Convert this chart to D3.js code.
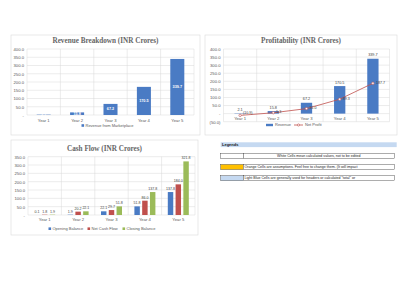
<!DOCTYPE html>
<html><head><meta charset="utf-8">
<script src="https://cdn.jsdelivr.net/npm/d3@7"></script>
<style>body{margin:0;background:#fff}svg{display:block}text{font-family:"Liberation Sans",Arial,sans-serif}</style>
</head><body><svg id="c" width="400" height="300"></svg>
<script>
const years = ["Year 1","Year 2","Year 3","Year 4","Year 5"];
const revenue = [2.1, 15.8, 67.2, 170.5, 339.7];
const netProfit = [-10.9, 5.3, 31.0, 89.3, 187.7];
const openingBalance = [0.1, 1.9, 22.1, 51.8, 137.8];
const netCashFlow = [1.8, 20.2, 29.7, 86.0, 184.0];
const closingBalance = [1.9, 22.1, 51.8, 137.8, 321.8];
const revTicks = [0,50,100,150,200,250,300,350,400];
const profitTicks = [-50,0,50,100,150,200,250,300,350,400];
const cashTicks = [0,50,100,150,200,250,300,350];
const legendRows = [
  {fill:"#ffffff", text:"White Cells mean calculated values, not to be edited", center:true},
  {fill:"#ffc000", text:"Orange Cells are assumptions. Feel free to change them. (It will impact", center:false},
  {fill:"#c5d9f1", text:"Light Blue Cells are generally used for headers or calculated \"total\" or", center:false}
];

const svg = d3.select("#c");
const fmt = v => v === 0 ? "-" : (v < 0 ? "(" + d3.format(",.1f")(-v) + ")" : d3.format(",.1f")(v));
const BLUE = "#4a7bc4", RED = "#c0504d", GREEN = "#9bbb59";
const GRID = "#d9d9d9", TXT = "#595959";

function frame(card, title, titleY, plot, x, y, ticks) {
  svg.append("rect").attr("x", card.x).attr("y", card.y).attr("width", card.w).attr("height", card.h)
    .attr("fill", "#fff").attr("stroke", "#d9d9d9").attr("stroke-width", 0.6);
  svg.append("text").attr("x", card.x + card.w / 2).attr("y", titleY).attr("text-anchor", "middle")
    .attr("dominant-baseline", "middle")
    .style("font-family", "'Liberation Serif','DejaVu Serif',serif")
    .attr("font-size", 7.2).attr("font-weight", "bold").attr("fill", "#666").text(title);
  const g = svg.append("g");
  g.selectAll(".hg").data(ticks).join("line").attr("x1", plot.x0).attr("x2", plot.x1)
    .attr("y1", d => y(d)).attr("y2", d => y(d)).attr("stroke", GRID).attr("stroke-width", 0.5);
  const bw = x.step();
  const vx = years.map((d, i) => plot.x0 + i * bw).concat([plot.x1]);
  g.selectAll(".vg").data(vx).join("line").attr("x1", d => d).attr("x2", d => d)
    .attr("y1", y(ticks[ticks.length - 1])).attr("y2", y(ticks[0])).attr("stroke", GRID).attr("stroke-width", 0.5);
  const ya = d3.axisLeft(y).tickValues(ticks).tickFormat(fmt).tickSize(0).tickPadding(3);
  const yg = svg.append("g").attr("transform", `translate(${plot.x0},0)`).call(ya);
  yg.select(".domain").remove();
  yg.selectAll("text").attr("font-size", 4.2).attr("fill", TXT).style("font-family", "'Liberation Sans',Arial,sans-serif");
  return g;
}

function xAxis(x, yPos) {
  const xa = d3.axisBottom(x).tickSize(0).tickPadding(0);
  const xg = svg.append("g").attr("transform", `translate(0,${yPos})`).call(xa);
  xg.select(".domain").remove();
  xg.selectAll("text").attr("font-size", 4.2).attr("fill", TXT).attr("dy", "0.35em").attr("y", 0)
    .style("font-family", "'Liberation Sans',Arial,sans-serif");
}

function legend(items, cx, yPos) {
  const fs = 4.0;
  const widths = items.map(it => it.label.length * fs * 0.5 + (it.type === "line" ? 11 : (it.type === "wide" ? 9 : 4)) + 5);
  const total = d3.sum(widths);
  let xx = cx - total / 2;
  items.forEach(it => {
    if (it.type === "line") {
      svg.append("line").attr("x1", xx).attr("x2", xx + 9).attr("y1", yPos).attr("y2", yPos).attr("stroke", it.color).attr("stroke-width", 0.8);
      svg.append("circle").attr("cx", xx + 4.5).attr("cy", yPos).attr("r", 1.1).attr("fill", "#fff").attr("stroke", it.color).attr("stroke-width", 0.6);
      xx += 11;
    } else if (it.type === "wide") {
      svg.append("rect").attr("x", xx).attr("y", yPos - 1.2).attr("width", 7).attr("height", 2.4).attr("fill", it.color);
      xx += 9;
    } else {
      svg.append("rect").attr("x", xx).attr("y", yPos - 1.3).attr("width", 2.6).attr("height", 2.6).attr("fill", it.color);
      xx += 4;
    }
    svg.append("text").attr("x", xx).attr("y", yPos).attr("dominant-baseline", "middle").attr("font-size", fs).attr("fill", TXT).text(it.label);
    xx += it.label.length * fs * 0.5 + 5;
  });
}

// ---------- Chart 1: Revenue Breakdown ----------
{
  const card = {x: 11, y: 35, w: 189, h: 100};
  const plot = {x0: 27, x1: 194, top: 49, bot: 115};
  const x = d3.scaleBand().domain(years).range([plot.x0, plot.x1]);
  const y = d3.scaleLinear().domain([0, 400]).range([plot.bot, plot.top]);
  frame(card, "Revenue Breakdown (INR Crores)", 41.5, plot, x, y, revTicks);
  const bw = x.bandwidth() * 0.42;
  svg.append("g").selectAll("rect").data(revenue).join("rect")
    .attr("x", (d, i) => x(years[i]) + x.bandwidth() / 2 - bw / 2).attr("width", bw)
    .attr("y", d => y(d)).attr("height", d => y(0) - y(d)).attr("fill", BLUE);
  svg.append("g").selectAll("text").data(revenue).join("text")
    .attr("x", (d, i) => x(years[i]) + x.bandwidth() / 2).attr("y", d => (y(d) + y(0)) / 2)
    .attr("text-anchor", "middle").attr("dominant-baseline", "middle").attr("font-size", 3.8)
    .attr("font-weight", "bold").attr("fill", "#fff").text(d => fmt(d));
  xAxis(x, 121);
  legend([{type: "sq", color: BLUE, label: "Revenue from Marketplace"}], 110, 125.5);
}

// ---------- Chart 2: Profitability ----------
{
  const card = {x: 205, y: 35, w: 192, h: 100};
  const plot = {x0: 223.5, x1: 389.5, top: 49, bot: 121.7};
  const x = d3.scaleBand().domain(years).range([plot.x0, plot.x1]);
  const y = d3.scaleLinear().domain([-50, 400]).range([plot.bot, plot.top]);
  frame(card, "Profitability (INR Crores)", 41.5, plot, x, y, profitTicks);
  const bw = x.bandwidth() * 0.34;
  const cx = i => x(years[i]) + x.bandwidth() / 2;
  svg.append("g").selectAll("rect").data(revenue).join("rect")
    .attr("x", (d, i) => cx(i) - bw / 2).attr("width", bw)
    .attr("y", d => y(d)).attr("height", d => y(0) - y(d)).attr("fill", BLUE);
  svg.append("g").selectAll("text").data(revenue).join("text")
    .attr("x", (d, i) => cx(i)).attr("y", d => y(d) - 2.5)
    .attr("text-anchor", "middle").attr("font-size", 3.8).attr("fill", "#404040").text(d => fmt(d));
  const line = d3.line().x((d, i) => cx(i)).y(d => y(d));
  svg.append("path").datum(netProfit).attr("d", line).attr("fill", "none").attr("stroke", RED).attr("stroke-width", 0.8);
  svg.append("g").selectAll("circle").data(netProfit).join("circle")
    .attr("cx", (d, i) => cx(i)).attr("cy", d => y(d)).attr("r", 1.2)
    .attr("fill", "#fff").attr("stroke", RED).attr("stroke-width", 0.6);
  svg.append("g").selectAll("text").data(netProfit).join("text")
    .attr("x", (d, i) => cx(i) + 3).attr("y", d => Math.min(y(d), y(0)) - 0.3)
    .attr("dominant-baseline", "middle").attr("font-size", 3.6).attr("fill", "#404040").text(d => fmt(d));
  xAxis(x, 118.6);
  legend([{type: "wide", color: BLUE, label: "Revenue"}, {type: "line", color: RED, label: "Net Profit"}], 298, 125);
}

// ---------- Chart 3: Cash Flow ----------
{
  const card = {x: 11, y: 140, w: 187, h: 95};
  const plot = {x0: 28, x1: 195, top: 156.7, bot: 215};
  const x = d3.scaleBand().domain(years).range([plot.x0, plot.x1]);
  const y = d3.scaleLinear().domain([0, 350]).range([plot.bot, plot.top]);
  frame(card, "Cash Flow (INR Crores)", 149, plot, x, y, cashTicks);
  const series = [
    {name: "Opening Balance", vals: openingBalance, color: BLUE},
    {name: "Net Cash Flow", vals: netCashFlow, color: RED},
    {name: "Closing Balance", vals: closingBalance, color: GREEN}
  ];
  const inner = d3.scaleBand().domain(series.map(s => s.name)).range([0, 21]).paddingInner(0.3);
  series.forEach(s => {
    const off = x.bandwidth() / 2 - 10.5 + inner(s.name);
    svg.append("g").selectAll("rect").data(s.vals).join("rect")
      .attr("x", (d, i) => x(years[i]) + off).attr("width", inner.bandwidth())
      .attr("y", d => y(d)).attr("height", d => y(0) - y(d)).attr("fill", s.color);
    svg.append("g").selectAll("text").data(s.vals).join("text")
      .attr("x", (d, i) => x(years[i]) + off + inner.bandwidth() / 2).attr("y", d => y(d) - 2)
      .attr("text-anchor", "middle").attr("font-size", 3.6).attr("fill", "#404040").text(d => fmt(d));
  });
  xAxis(x, 220);
  legend(series.map(s => ({type: "sq", color: s.color, label: s.name})), 105, 228.7);
}

// ---------- Legends table ----------
{
  svg.append("rect").attr("x", 220.7).attr("y", 142.3).attr("width", 176).attr("height", 4.8).attr("fill", "#c5d9f1");
  svg.append("text").attr("x", 222).attr("y", 144.8).attr("dominant-baseline", "middle").attr("font-size", 4)
    .attr("font-weight", "bold").attr("fill", "#222").text("Legends");
  const rowY = d3.scalePoint().domain(legendRows.map((d, i) => i)).range([153.3, 175.7]);
  legendRows.forEach((r, i) => {
    const yy = rowY(i);
    svg.append("rect").attr("x", 220.7).attr("y", yy).attr("width", 22.6).attr("height", 5).attr("fill", r.fill)
      .attr("stroke", "#333").attr("stroke-width", 0.4);
    svg.append("rect").attr("x", 243.3).attr("y", yy).attr("width", 151).attr("height", 5).attr("fill", "#fff")
      .attr("stroke", "#333").attr("stroke-width", 0.4);
    svg.append("text").attr("x", r.center ? 318.8 : 244.5).attr("y", yy + 2.6)
      .attr("text-anchor", r.center ? "middle" : "start").attr("dominant-baseline", "middle")
      .attr("font-size", 3.6).attr("fill", "#222").text(r.text);
  });
}
</script></body></html>
